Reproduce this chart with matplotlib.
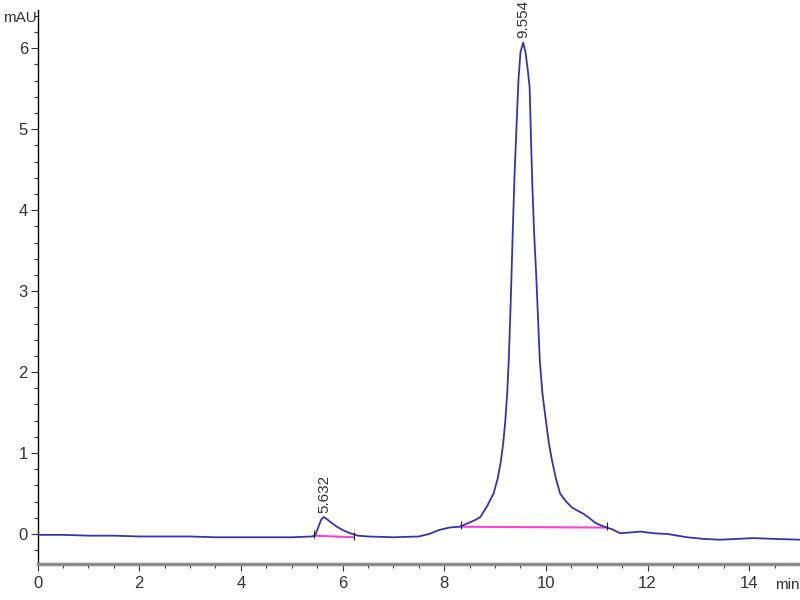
import matplotlib
matplotlib.use("Agg")
import matplotlib.pyplot as plt
from matplotlib import font_manager

# chromatogram trace (min, mAU)
time = [0.0, 0.5, 1.0, 1.5, 2.0, 2.5, 3.0, 3.5, 4.0, 4.5, 5.0, 5.40, 5.46,
        5.52, 5.58, 5.63, 5.70, 5.78, 5.89, 6.0, 6.15, 6.3, 6.5, 7.0, 7.5,
        7.7, 7.9, 8.1, 8.3, 8.45, 8.6, 8.71, 8.84, 8.97, 9.05, 9.11, 9.16,
        9.20, 9.24, 9.27, 9.31, 9.34, 9.38, 9.42, 9.46, 9.50, 9.554, 9.60,
        9.65, 9.68, 9.73, 9.77, 9.81, 9.85, 9.88, 9.93, 10.0, 10.06, 10.12,
        10.20, 10.28, 10.40, 10.51, 10.62, 10.74, 10.85, 10.97, 11.07, 11.2,
        11.3, 11.46, 11.86, 12.12, 12.4, 12.78, 13.1, 13.43, 14.09, 14.5,
        15.0]
signal = [-0.01, -0.01, -0.02, -0.02, -0.03, -0.03, -0.03, -0.04, -0.04,
          -0.04, -0.04, -0.03, -0.02, 0.08, 0.18, 0.21, 0.18, 0.14, 0.09,
          0.05, 0.01, -0.02, -0.03, -0.04, -0.03, 0.00, 0.05, 0.08, 0.09,
          0.13, 0.17, 0.21, 0.34, 0.50, 0.68, 0.88, 1.12, 1.38, 1.75, 2.15,
          2.9, 3.55, 4.37, 5.0, 5.6, 5.95, 6.07, 5.95, 5.7, 5.52, 4.37, 3.7,
          3.2, 2.6, 2.15, 1.75, 1.40, 1.12, 0.91, 0.68, 0.50, 0.40, 0.33,
          0.29, 0.25, 0.20, 0.14, 0.11, 0.08, 0.06, 0.01, 0.03, 0.01, 0.0,
          -0.04, -0.06, -0.07, -0.05, -0.06, -0.07]

# peaks: retention time, apex height
peak_rt = [5.632, 9.554]
peak_top = [0.21, 6.07]
peak_labels = ["5.632", "9.554"]

# integration baselines (start, end)
base_t = [(5.43, 6.22), (8.33, 11.2)]
base_v = [(-0.02, -0.04), (0.09, 0.08)]

have = {f.name for f in font_manager.fontManager.ttflist}
fam = "Liberation Sans Narrow" if "Liberation Sans Narrow" in have else "Liberation Sans"
plt.rcParams["font.family"] = [fam, "DejaVu Sans"]

fig = plt.figure(figsize=(8, 6), dpi=100)
ax = fig.add_axes([0.047, 0.06, 0.953, 0.923])

ax.plot(time, signal, color="#3434b0", lw=1.3, zorder=3)

for (t0, t1), (v0, v1) in zip(base_t, base_v):
    ax.plot([t0, t1], [v0, v1], color="#ff40d8", lw=1.5, zorder=2)
    ax.plot([t0, t1], [v0 + 0.02, v1 + 0.02], ls="none", marker="|",
            ms=6, mew=0.8, color="#222222", zorder=4)

for rt, top, lab in zip(peak_rt, peak_top, peak_labels):
    ax.annotate(lab, (rt, top), xytext=(0, 3), textcoords="offset points",
                rotation=90, ha="center", va="bottom", fontsize=11,
                color="#333333", annotation_clip=False)

ax.set_xlim(0, 15)
ax.set_ylim(-0.37, 6.47)
ax.set_xticks([0, 2, 4, 6, 8, 10, 12, 14])
ax.set_xticks([x * 0.5 for x in range(31)], minor=True)
ax.set_yticks([0, 1, 2, 3, 4, 5, 6])
ax.set_yticks([y * 0.2 for y in range(-1, 33)], minor=True)

ax.spines["top"].set_visible(False)
ax.spines["right"].set_visible(False)
ax.spines["bottom"].set_color("#8c8c8c")
ax.spines["bottom"].set_linewidth(2.5)
ax.spines["left"].set_linewidth(1.0)

ax.tick_params(axis="both", which="major", length=5, width=0.8,
               labelsize=12, color="#333333", labelcolor="#333333")
ax.tick_params(axis="both", which="minor", length=3, width=0.8,
               color="#333333")
ax.tick_params(axis="y", pad=2)
ax.tick_params(axis="x", pad=4)

fig.text(0.004, 0.97, "mAU", fontsize=11, color="#333333", va="center")
fig.text(0.999, 0.025, "min", fontsize=11, color="#333333", va="center",
         ha="right")

fig.savefig("out.png", dpi=100)
